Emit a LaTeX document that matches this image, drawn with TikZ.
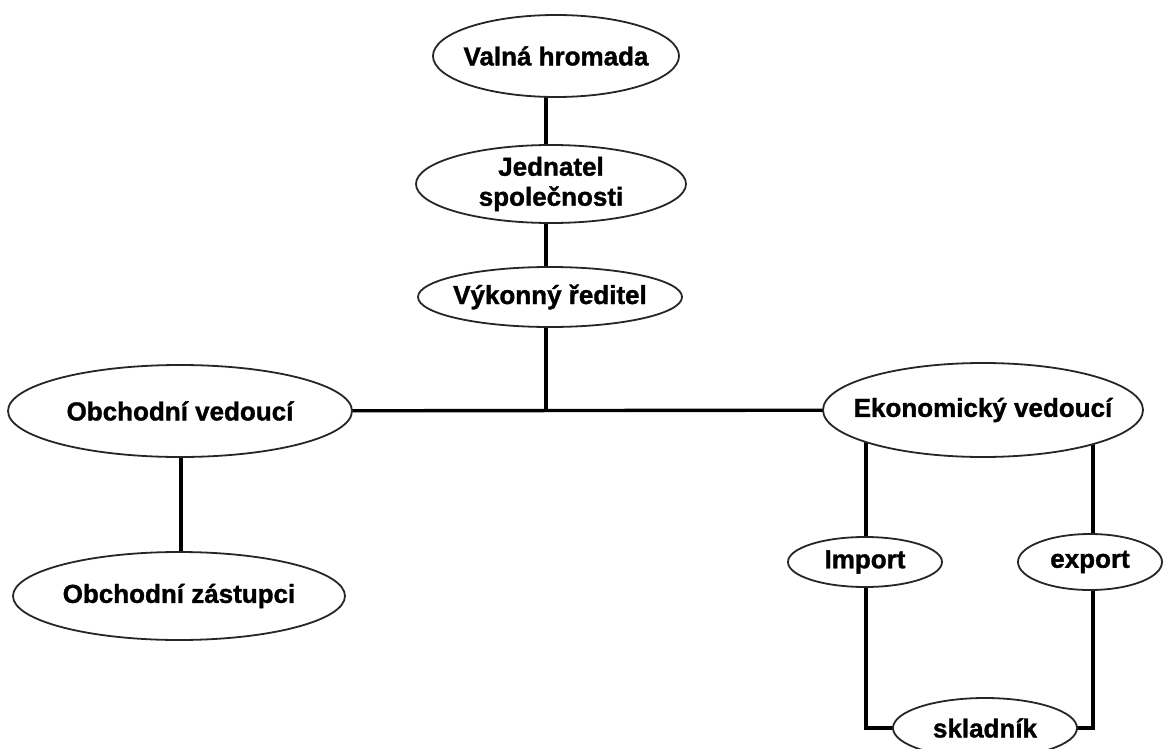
\documentclass[tikz,border=0pt]{standalone}
\usepackage{fontspec}
\setmainfont{Liberation Sans}
\newfontfamily\heavy[FakeBold=1.3]{Liberation Sans Bold}
\usetikzlibrary{shapes.geometric,backgrounds}
\begin{document}
\begin{tikzpicture}[x=1pt,y=-1pt,
  box/.style={ellipse,draw=black!85,line width=1.8pt,fill=white,inner sep=0pt,outer sep=0pt},
  lbl/.style={font=\fontsize{26}{30}\heavy,align=center,inner sep=0pt},
  conn/.style={line width=3.4pt,black}]
\clip (0,0) rectangle (1164,749);
\useasboundingbox (0,0) rectangle (1164,749);
\node[box,minimum width=246pt,minimum height=82pt,label={[lbl]center:Valná hromada}] (v) at (556,56) {};
\node[box,minimum width=270pt,minimum height=78pt,label={[lbl]center:Jednatel\\společnosti}] (j) at (551,184) {};
\node[box,minimum width=264pt,minimum height=60pt,label={[lbl]center:Výkonný ředitel}] (r) at (550,297) {};
\node[box,minimum width=344pt,minimum height=92pt,label={[lbl]center:Obchodní vedoucí}] (ov) at (180,411) {};
\node[box,minimum width=332pt,minimum height=88pt,label={[lbl]center:Obchodní zástupci}] (oz) at (179,596) {};
\node[box,minimum width=320pt,minimum height=94pt,label={[lbl]center:Ekonomický vedoucí}] (ev) at (983,410) {};
\node[box,minimum width=154pt,minimum height=50pt,label={[lbl]center:Import}] (imp) at (865,562) {};
\node[box,minimum width=144pt,minimum height=56pt,label={[lbl]center:export}] (ex) at (1090,562) {};
\node[box,minimum width=184pt,minimum height=60pt,label={[lbl]center:skladník}] (sk) at (985,728) {};
\coordinate (jn) at (546,410);
\coordinate (ovx) at (181,411);
\coordinate (ix) at (866,410);
\coordinate (ex2) at (1093,410);
\begin{pgfonlayer}{background}
\draw[conn] (v.center -| jn) -- (j.center -| jn);
\draw[conn] (j.center -| jn) -- (r.center -| jn);
\draw[conn] (r.center -| jn) -- (jn);
\draw[conn] (ov.center) -- (ev.center);
\draw[conn] (ovx) -- (oz.center -| ovx);
\draw[conn] (ix) -- (imp.center -| ix) |- (sk.center);
\draw[conn] (ex2) -- (ex.center -| ex2) |- (sk.center);
\end{pgfonlayer}
\end{tikzpicture}
\end{document}
